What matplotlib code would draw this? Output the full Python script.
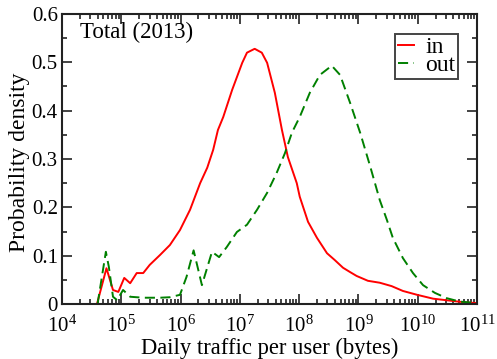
import numpy as np
import matplotlib
matplotlib.use("Agg")
import matplotlib.pyplot as plt
from matplotlib.ticker import FixedLocator, MultipleLocator, NullFormatter

# ---- data (log10 of bytes, density) ----
logx_in = [4.55, 4.59, 4.75, 4.86, 4.95, 5.05, 5.15, 5.26, 5.37, 5.48, 5.65, 5.82,
           5.99, 6.16, 6.33, 6.45, 6.55, 6.63, 6.72, 6.87, 7.04, 7.12, 7.25, 7.37,
           7.46, 7.59, 7.71, 7.81, 7.96, 8.01, 8.15, 8.30, 8.47, 8.60, 8.74, 8.86,
           8.97, 9.16, 9.36, 9.56, 9.75, 9.99, 10.26, 10.54, 10.83, 11.0]
in_y = [0.0, 0.0, 0.074, 0.029, 0.025, 0.054, 0.043, 0.064, 0.064, 0.081, 0.101, 0.122,
        0.153, 0.195, 0.250, 0.282, 0.319, 0.360, 0.387, 0.443, 0.499, 0.520, 0.528, 0.520,
        0.499, 0.437, 0.360, 0.304, 0.250, 0.222, 0.170, 0.137, 0.105, 0.091, 0.075, 0.066,
        0.058, 0.048, 0.044, 0.037, 0.027, 0.019, 0.011, 0.007, 0.003, 0.002]

logx_out = [4.60, 4.74, 4.79, 4.86, 4.93, 5.03, 5.15, 5.37, 5.65, 5.82, 5.99, 6.10,
            6.22, 6.36, 6.53, 6.65, 6.78, 6.95, 7.12, 7.29, 7.46, 7.62, 7.76, 7.88,
            8.01, 8.18, 8.35, 8.55, 8.69, 8.86, 9.03, 9.20, 9.36, 9.48, 9.58, 9.75,
            9.92, 10.09, 10.29, 10.49, 10.71, 11.0]
out_y = [0.0, 0.108, 0.077, 0.015, 0.008, 0.029, 0.015, 0.013, 0.013, 0.014, 0.019, 0.056,
         0.111, 0.039, 0.108, 0.097, 0.118, 0.149, 0.164, 0.195, 0.230, 0.271, 0.312, 0.355,
         0.387, 0.437, 0.474, 0.493, 0.474, 0.416, 0.354, 0.284, 0.215, 0.174, 0.137, 0.095,
         0.064, 0.039, 0.023, 0.012, 0.005, 0.002]

series_labels = ["in", "out"]
title_text = "Total (2013)"
xlabel = "Daily traffic per user (bytes)"
ylabel = "Probability density"
xtick_exps = [4, 5, 6, 7, 8, 9, 10, 11]
ytick_vals = [0, 0.1, 0.2, 0.3, 0.4, 0.5, 0.6]
ytick_labels = ['0', '0.1', '0.2', '0.3', '0.4', '0.5', '0.6']

plt.rcParams['font.family'] = ['Liberation Serif', 'DejaVu Serif']
plt.rcParams['mathtext.fontset'] = 'custom'
plt.rcParams['mathtext.rm'] = 'Liberation Serif'
plt.rcParams['mathtext.it'] = 'Liberation Serif:italic'

fig = plt.figure(figsize=(4.97, 3.59), dpi=100)
ax = fig.add_axes([62/497, 1-304/359, (477-62)/497, (304-14)/359])

x_in = 10.0 ** np.array(logx_in)
x_out = 10.0 ** np.array(logx_out)
ax.plot(x_in, in_y, color='#ff0000', lw=1.4, label=series_labels[0])
ax.plot(x_out, out_y, color='#008000', lw=1.4, dashes=(5.2, 2.8), label=series_labels[1])

ax.set_xscale('log')
ax.set_xlim(1e4, 1e11)
ax.set_ylim(0, 0.6)
ax.set_xticks([10.0 ** e for e in xtick_exps])
ax.set_xticklabels([r'$10^{%d}$' % e for e in xtick_exps])
minor = [m * 10.0 ** e for e in xtick_exps[:-1] for m in range(2, 10)]
ax.xaxis.set_minor_locator(FixedLocator(minor))
ax.xaxis.set_minor_formatter(NullFormatter())
ax.yaxis.set_minor_locator(MultipleLocator(0.05))
ax.set_yticks(ytick_vals)
ax.set_yticklabels(ytick_labels)

ax.tick_params(which='both', direction='in', top=True, right=True, labelsize=15, width=1.2, color='#222222')
ax.tick_params(which='major', length=7)
ax.tick_params(which='minor', length=3.5)
ax.tick_params(axis='x', which='major', pad=8)
ax.tick_params(axis='y', which='major', pad=3)
for s in ax.spines.values():
    s.set_linewidth(1.5)
    s.set_color('#222222')

ax.set_xlabel(xlabel, fontsize=16.3)
ax.xaxis.set_label_coords(0.5, -0.118)
ax.set_ylabel(ylabel, fontsize=17)
ax.yaxis.set_label_coords(-0.077, 0.49)

ax.text(0.043, 0.935, title_text, transform=ax.transAxes, fontsize=16.5, va='center', ha='left')

leg = ax.legend(loc='upper right', bbox_to_anchor=(396/415, 1-20/290), fontsize=17,
                handlelength=0.7, handletextpad=0.45, borderpad=0.12, labelspacing=-0.15,
                fancybox=False, framealpha=1, edgecolor='#444444', borderaxespad=0)
leg.get_frame().set_linewidth(1.4)

fig.savefig('out.png', dpi=100)
